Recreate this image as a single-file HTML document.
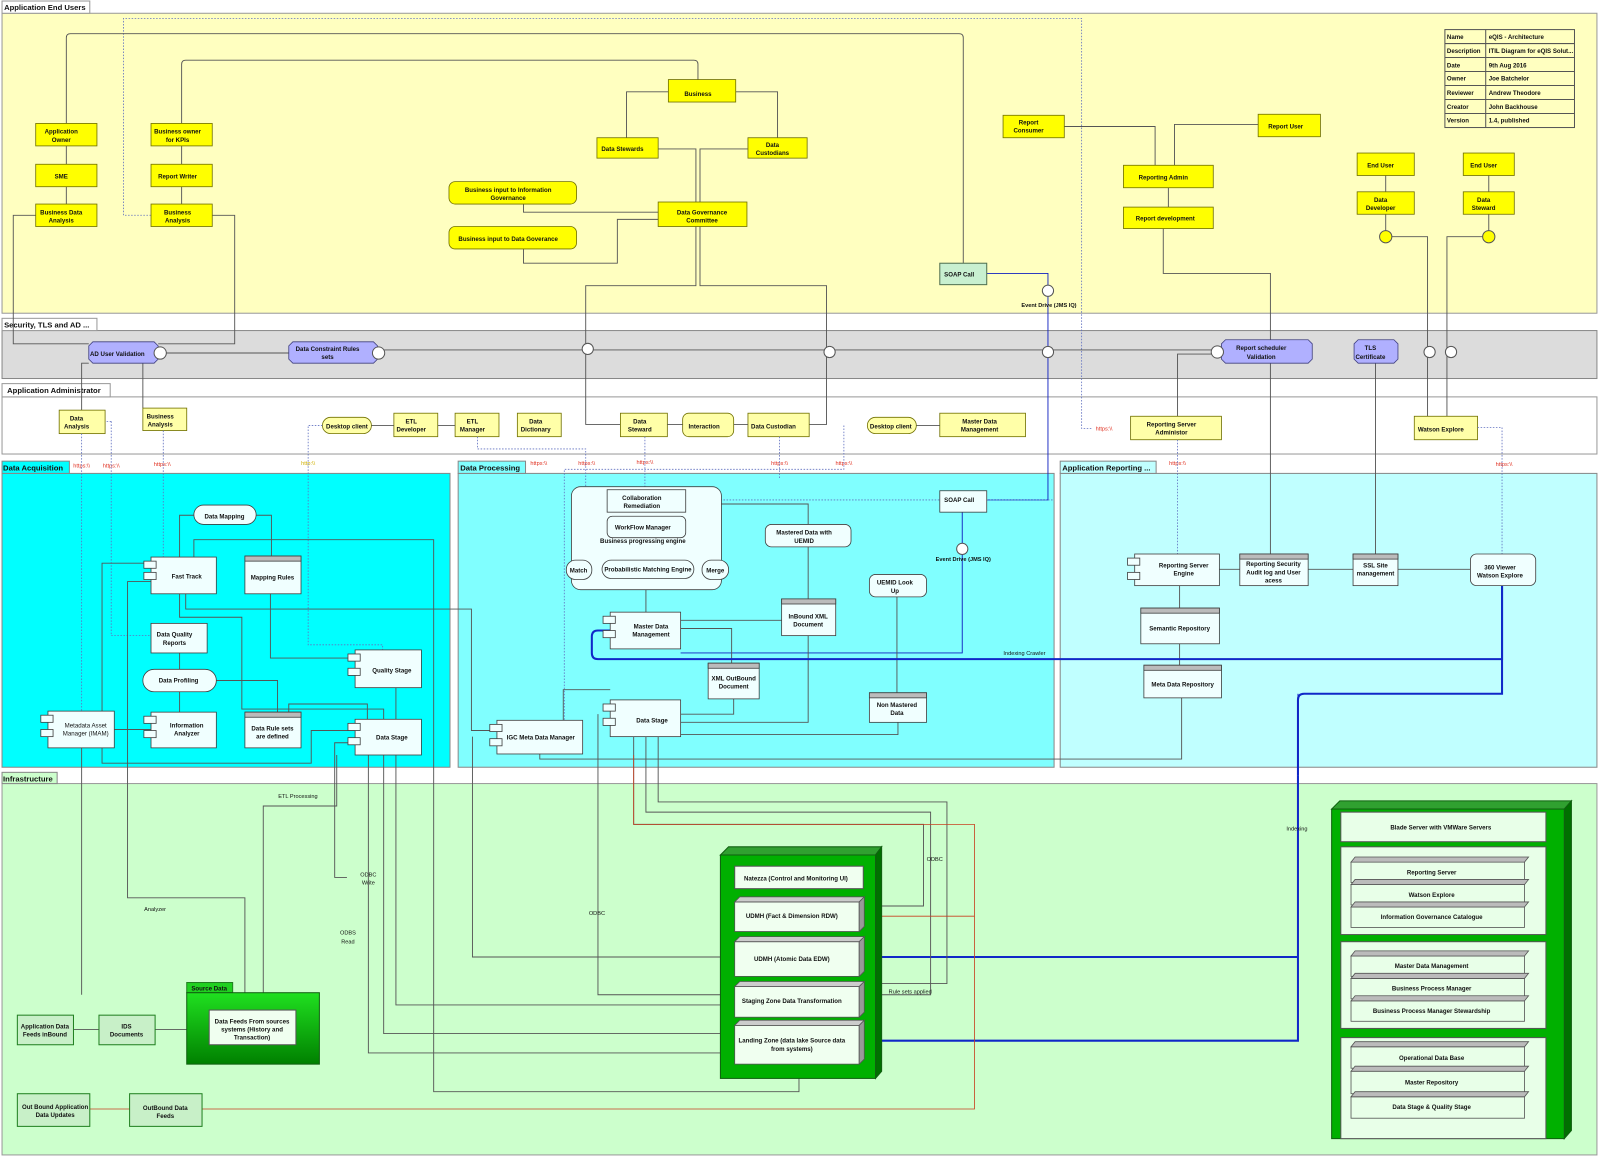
<!DOCTYPE html>
<html><head><meta charset="utf-8"><style>
html,body{margin:0;padding:0;background:#fff;}
svg{display:block;}
text{font-family:"Liberation Sans",sans-serif;font-size:6px;font-weight:bold;fill:#111;text-anchor:middle;}
.tab{font-size:7.5px;text-anchor:start;font-weight:bold;}
.ln{fill:none;stroke:#555;stroke-width:0.9;}
.lb{fill:none;stroke:#1020c0;stroke-width:0.9;}
.lbb{fill:none;stroke:#1028c8;stroke-width:2;}
.lr{fill:none;stroke:#c84020;stroke-width:0.8;}
.dt{fill:none;stroke:#6070c0;stroke-width:0.8;stroke-dasharray:1.5,1.5;}
.y{fill:#ffff00;stroke:#707000;stroke-width:0.8;}
.ly{fill:#ffffa8;stroke:#707000;stroke-width:0.8;}
.w{fill:#f0ffff;stroke:#404040;stroke-width:0.8;}
.p{fill:#b0b0ff;stroke:#404080;stroke-width:0.8;}
.g{fill:#c8f0c8;stroke:#208020;stroke-width:1;}
.r{fill:#e03020;font-weight:normal;font-size:5.5px;}
.n{font-weight:normal;}
.sh{fill:#888;}
</style></head><body>
<svg width="1600" height="1158" viewBox="0 0 1568 1135" preserveAspectRatio="none" xmlns="http://www.w3.org/2000/svg">
<defs>
<linearGradient id="gg" x1="0" y1="0" x2="0" y2="1"><stop offset="0" stop-color="#20e020"/><stop offset="1" stop-color="#008000"/></linearGradient>
</defs>
<!-- Frames -->
<rect x="2" y="13" width="1563" height="294" fill="#ffffc0" stroke="#999"/>
<rect x="2" y="1" width="86" height="12" fill="#fff" stroke="#999"/><text class="tab" x="4" y="10">Application End Users</text>
<rect x="2" y="324" width="1563" height="47" fill="#dcdcdc" stroke="#888"/>
<rect x="2" y="312" width="93" height="12" fill="#fff" stroke="#999"/><text class="tab" x="4" y="321">Security, TLS and AD  ...</text>
<rect x="2" y="389" width="1563" height="56" fill="#fff" stroke="#999"/>
<rect x="2" y="376" width="106" height="13" fill="#fff" stroke="#999"/><text class="tab" x="7" y="385">Application Administrator</text>
<rect x="2" y="464" width="439" height="288" fill="#00ffff" stroke="#888"/>
<rect x="2" y="452" width="66" height="12" fill="#00ffff" stroke="#888"/><text class="tab" x="3" y="461">Data Acquisition</text>
<rect x="449" y="464" width="584" height="288" fill="#80ffff" stroke="#888"/>
<rect x="449" y="452" width="66" height="12" fill="#80ffff" stroke="#888"/><text class="tab" x="451" y="461">Data Processing</text>
<rect x="1039" y="464" width="526" height="288" fill="#c0ffff" stroke="#888"/>
<rect x="1039" y="452" width="94" height="12" fill="#c0ffff" stroke="#888"/><text class="tab" x="1041" y="461">Application Reporting ...</text>
<rect x="2" y="768" width="1563" height="364" fill="#ccffcc" stroke="#999"/>
<rect x="2" y="757" width="54" height="11" fill="#ccffcc" stroke="#888"/><text class="tab" x="3" y="766">Infrastructure</text>

<!-- Info table -->
<g>
<rect x="1416" y="29" width="127" height="96" fill="#ffffc0" stroke="#555"/>
<line x1="1456" y1="29" x2="1456" y2="125" stroke="#555"/>
<line x1="1416" y1="42.7" x2="1543" y2="42.7" stroke="#555"/><line x1="1416" y1="56.4" x2="1543" y2="56.4" stroke="#555"/>
<line x1="1416" y1="70.1" x2="1543" y2="70.1" stroke="#555"/><line x1="1416" y1="83.8" x2="1543" y2="83.8" stroke="#555"/>
<line x1="1416" y1="97.5" x2="1543" y2="97.5" stroke="#555"/><line x1="1416" y1="111.2" x2="1543" y2="111.2" stroke="#555"/>
<g style="font-size:5.3px">
<text x="1418" y="38" style="text-anchor:start">Name</text><text x="1459" y="38" style="text-anchor:start">eQIS - Architecture</text>
<text x="1418" y="52" style="text-anchor:start">Description</text><text x="1459" y="52" style="text-anchor:start">ITIL Diagram for eQIS Solut...</text>
<text x="1418" y="66" style="text-anchor:start">Date</text><text x="1459" y="66" style="text-anchor:start">9th Aug 2016</text>
<text x="1418" y="79" style="text-anchor:start">Owner</text><text x="1459" y="79" style="text-anchor:start">Joe Batchelor</text>
<text x="1418" y="93" style="text-anchor:start">Reviewer</text><text x="1459" y="93" style="text-anchor:start">Andrew Theodore</text>
<text x="1418" y="107" style="text-anchor:start">Creator</text><text x="1459" y="107" style="text-anchor:start">John Backhouse</text>
<text x="1418" y="120" style="text-anchor:start">Version</text><text x="1459" y="120" style="text-anchor:start">1.4, published</text>
</g></g>

<!-- Connectors: end users -->
<path class="dt" d="M148,211 H121 V18 H1060 V420 H1070"/>
<path class="ln" d="M65,121 V37 Q65,33 69,33 H940 Q944,33 944,37 V258"/>
<path class="ln" d="M178,121 V63 Q178,59 182,59 H680 Q684,59 684,63 V78"/>
<path class="ln" d="M65,143 V161 M65,183 V200 M178,143 V161 M178,183 V200"/>
<path class="ln" d="M655,90 H614 V135 M721,90 H762 V135"/>
<path class="ln" d="M645,146 H682 V198 M733,146 H686 V198"/>
<path class="ln" d="M513,200 V208 H645 M513,244 V258 H605 V215 H645"/>
<path class="ln" d="M682,222 V280 H574 V416 H608"/>
<path class="ln" d="M686,222 V280 H810 V416 H793"/>
<path class="ln" d="M35,211 H13 V337 H87 M208,211 H230 V337 H155"/>
<path class="ln" d="M1043,124 H1132 V162 M1233,122 H1151 V162 M1145,184 V203"/>
<path class="ln" d="M1140,224 V268 H1245 V333 M1245,356 V543"/>
<path class="ln" d="M1358,172 V188 M1358,210 V226 M1459,172 V188 M1459,210 V226"/>
<path class="ln" d="M1364,232 H1399 V408 M1453,232 H1418 V408"/>
<path class="ln" d="M1154,408 V347 H1193 M1348,356 V543"/>
<path class="lb" d="M967,268 H1027 V490 H967"/>
<path class="lb" d="M943,502 V640 H667"/>
<path class="ln" d="M80,402 V356 H87 M140,400 V356"/>
<path class="ln" d="M160,346 H283 M374,343 H1197"/>
<!-- Security items -->
<path class="p" d="M91,335 H151 L155,339 V352 L151,356 H91 L87,352 V339 Z"/><text x="115" y="349">AD User Validation</text>
<circle cx="157" cy="346" r="6" fill="#fff" stroke="#555"/>
<path class="p" d="M287,335 H366 L370,339 V352 L366,356 H287 L283,352 V339 Z"/><text x="321" y="344">Data Constraint Rules</text><text x="321" y="352">sets</text>
<circle cx="371" cy="346" r="6" fill="#fff" stroke="#555"/>
<path class="p" d="M1201,333 H1282 L1286,337 V352 L1282,356 H1201 L1197,352 V337 Z"/><text x="1236" y="343">Report scheduler</text><text x="1236" y="352">Validation</text>
<circle cx="1193" cy="345" r="6" fill="#fff" stroke="#555"/>
<path class="p" d="M1331,333 H1366 L1370,337 V352 L1366,356 H1331 L1327,352 V337 Z"/><text x="1343" y="343">TLS</text><text x="1343" y="352">Certificate</text>
<g fill="#fff" stroke="#555"><circle cx="576" cy="342" r="5.5"/><circle cx="813" cy="345" r="5.5"/><circle cx="1027" cy="345" r="5.5"/><circle cx="1401" cy="345" r="5.5"/><circle cx="1422" cy="345" r="5.5"/><circle cx="1027" cy="285" r="5.5"/></g>
<text x="1028" y="301" style="font-size:5.5px">Event Drive  (JMS IQ)</text>

<!-- End user nodes -->
<g>
<rect class="y" x="35" y="121" width="60" height="22"/><text x="60" y="131">Application</text><text x="60" y="139">Owner</text>
<rect class="y" x="35" y="161" width="60" height="22"/><text x="60" y="175">SME</text>
<rect class="y" x="35" y="200" width="60" height="22"/><text x="60" y="210">Business Data</text><text x="60" y="218">Analysis</text>
<rect class="y" x="148" y="121" width="60" height="22"/><text x="174" y="131">Business owner</text><text x="174" y="139">for KPIs</text>
<rect class="y" x="148" y="161" width="60" height="22"/><text x="174" y="175">Report Writer</text>
<rect class="y" x="148" y="200" width="60" height="22"/><text x="174" y="210">Business</text><text x="174" y="218">Analysis</text>
<rect class="y" x="655" y="78" width="66" height="22"/><text x="684" y="94">Business</text>
<rect class="y" x="585" y="135" width="60" height="20"/><text x="610" y="148">Data Stewards</text>
<rect class="y" x="733" y="135" width="58" height="20"/><text x="757" y="144">Data</text><text x="757" y="152">Custodians</text>
<rect class="y" x="440" y="178" width="125" height="22" rx="6"/><text x="498" y="188">Business input to Information</text><text x="498" y="196">Governance</text>
<rect class="y" x="440" y="222" width="125" height="22" rx="6"/><text x="498" y="236">Business input to Data Goverance</text>
<rect class="y" x="645" y="198" width="87" height="24"/><text x="688" y="210">Data Governance</text><text x="688" y="218">Committee</text>
<rect x="921" y="258" width="46" height="21" fill="#c8f0d0" stroke="#507050"/><text x="940" y="271">SOAP Call</text>
<rect class="y" x="983" y="113" width="60" height="22"/><text x="1008" y="122">Report</text><text x="1008" y="130">Consumer</text>
<rect class="y" x="1233" y="112" width="61" height="22"/><text x="1260" y="126">Report User</text>
<rect class="y" x="1101" y="162" width="88" height="22"/><text x="1140" y="176">Reporting Admin</text>
<rect class="y" x="1101" y="203" width="88" height="21"/><text x="1142" y="216">Report development</text>
<rect class="y" x="1330" y="150" width="56" height="22"/><text x="1353" y="164">End User</text>
<rect class="y" x="1330" y="188" width="56" height="22"/><text x="1353" y="198">Data</text><text x="1353" y="206">Developer</text>
<rect class="y" x="1434" y="150" width="50" height="22"/><text x="1454" y="164">End User</text>
<rect class="y" x="1434" y="188" width="50" height="22"/><text x="1454" y="198">Data</text><text x="1454" y="206">Steward</text>
<circle cx="1358" cy="232" r="6" fill="#ffff00" stroke="#555"/><circle cx="1459" cy="232" r="6" fill="#ffff00" stroke="#555"/>
</g>

<!-- Admin nodes -->
<g>
<rect class="ly" x="58" y="402" width="45" height="23"/><text x="75" y="412">Data</text><text x="75" y="420">Analysis</text>
<rect class="ly" x="140" y="400" width="43" height="22"/><text x="157" y="410">Business</text><text x="157" y="418">Analysis</text>
<rect class="ly" x="316" y="409" width="48" height="16" rx="8"/><text x="340" y="420">Desktop client</text>
<rect class="ly" x="386" y="405" width="43" height="23"/><text x="403" y="415">ETL</text><text x="403" y="423">Developer</text>
<rect class="ly" x="446" y="405" width="43" height="23"/><text x="463" y="415">ETL</text><text x="463" y="423">Manager</text>
<rect class="ly" x="507" y="405" width="43" height="23"/><text x="525" y="415">Data</text><text x="525" y="423">Dictionary</text>
<rect class="ly" x="608" y="405" width="46" height="23"/><text x="627" y="415">Data</text><text x="627" y="423">Steward</text>
<rect class="ly" x="669" y="405" width="50" height="23" rx="6"/><text x="690" y="420">Interaction</text>
<rect class="ly" x="733" y="405" width="60" height="23"/><text x="758" y="420">Data Custodian</text>
<rect class="ly" x="850" y="409" width="48" height="16" rx="8"/><text x="873" y="420">Desktop client</text>
<rect class="ly" x="921" y="405" width="84" height="23"/><text x="960" y="415">Master Data</text><text x="960" y="423">Management</text>
<rect class="ly" x="1108" y="408" width="89" height="23"/><text x="1148" y="418">Reporting Server</text><text x="1148" y="426">Administor</text>
<rect class="ly" x="1386" y="408" width="62" height="23"/><text x="1412" y="423">Watson Explore</text>
<path class="ln" d="M654,416 H669 M719,416 H733 M364,417 H386 M429,417 H446 M898,417 H921"/>
</g>
<!-- https labels and dotted -->
<g>
<text class="r" x="80" y="458">https:\\</text><text class="r" x="109" y="458">https:\\</text><text class="r" x="159" y="457">https:\\</text>
<text x="302" y="456" style="fill:#d0b000;font-weight:normal;font-size:5.5px">http:\\</text>
<text class="r" x="528" y="456">https:\\</text><text class="r" x="575" y="456">https:\\</text><text class="r" x="632" y="455">https:\\</text>
<text class="r" x="764" y="456">https:\\</text><text class="r" x="827" y="456">https:\\</text><text class="r" x="1154" y="456">https:\\</text>
<text class="r" x="1474" y="457">https:\\</text><text class="r" x="1082" y="422">https:\\</text>
<path class="dt" d="M80,425 V697 M109,413 H103 M109,413 V623 H148 M160,422 V546 M316,417 H302 V632 H375 V637"/>
<path class="dt" d="M468,428 V440 H574 V514 H595 M632,428 V506 M764,428 V470 M827,417 V460 H553 V706"/>
<path class="dt" d="M1154,431 V543 M1448,419 H1472 V543 M703,490 H1033"/>
</g>

<!-- Data Acquisition -->
<g>
<path class="ln" d="M190,505 H176 V546 M251,505 H266 V545"/>
<path class="ln" d="M265,582 V645 H348 M176,582 V605 H237 V695 H376 V705"/>
<path class="ln" d="M176,640 V656 M176,678 V698"/>
<path class="ln" d="M212,667 H272 V698"/>
<path class="ln" d="M112,715 H148 M148,552 H100 V697"/>
<path class="ln" d="M148,570 H125 V880 H240 V975"/>
<path class="ln" d="M182,582 V597 H462 V716 H487"/>
<path class="ln" d="M190,546 V529 H425 V1070 H783 V1057"/>
<path class="ln" d="M388,674 V705"/>
<path class="ln" d="M100,733 V748 H305 V716 H348 M283,698 V690 H360 V705"/>
<path class="ln" d="M348,728 H328 V860 H340"/>
<path class="ln" d="M80,733 V975 M361,740 V1032 H720 M376,740 V1013 H720 M388,740 V985 H720"/>
<path class="ln" d="M258,975 V790 H330 V740"/>
<rect class="w" x="190" y="495" width="61" height="19" rx="9.5"/><text x="220" y="508">Data Mapping</text>
<rect class="w" x="148" y="546" width="64" height="36"/><rect class="w" x="141" y="550" width="12" height="7"/><rect class="w" x="141" y="561" width="12" height="7"/><text x="183" y="567">Fast Track</text>
<rect class="w" x="240" y="545" width="55" height="37"/><rect x="240" y="545" width="55" height="5" fill="#bbb" stroke="#404040" stroke-width="0.8"/><text x="267" y="568">Mapping Rules</text>
<rect class="w" x="148" y="611" width="55" height="29"/><text x="171" y="624">Data Quality</text><text x="171" y="632">Reports</text>
<rect class="w" x="140" y="656" width="72" height="22" rx="11"/><text x="175" y="669">Data Profiling</text>
<rect class="w" x="348" y="637" width="65" height="37"/><rect class="w" x="341" y="641" width="12" height="7"/><rect class="w" x="341" y="655" width="12" height="7"/><text x="384" y="659">Quality Stage</text>
<rect class="w" x="47" y="697" width="65" height="36"/><rect class="w" x="40" y="701" width="12" height="7"/><rect class="w" x="40" y="715" width="12" height="7"/><text class="n" x="84" y="713">Metadata Asset</text><text class="n" x="84" y="721">Manager (IMAM)</text>
<rect class="w" x="148" y="698" width="64" height="35"/><rect class="w" x="141" y="702" width="12" height="7"/><rect class="w" x="141" y="716" width="12" height="7"/><text x="183" y="713">Information</text><text x="183" y="721">Analyzer</text>
<rect class="w" x="240" y="698" width="55" height="35"/><rect x="240" y="698" width="55" height="5" fill="#bbb" stroke="#404040" stroke-width="0.8"/><text x="267" y="716">Data Rule sets</text><text x="267" y="724">are defined</text>
<rect class="w" x="348" y="705" width="65" height="35"/><rect class="w" x="341" y="709" width="12" height="7"/><rect class="w" x="341" y="723" width="12" height="7"/><text x="384" y="725">Data Stage</text>
</g>

<!-- Data Processing -->
<g>
<path class="ln" d="M706,494 H792 V514 M792,536 V587 M633,578 V600 M667,608 H766 M667,616 H717 V650 M719,685 V700 H667 M792,623 V708 H667"/>
<path class="ln" d="M879,585 V679 M880,708 V720 H667"/>
<path class="ln" d="M598,676 H552 V706 M529,739 V744 H1158 V684"/>
<path class="ln" d="M1156,574 V596 M1156,631 V652 M1195,558 H1215 M1282,558 H1326 M1370,558 H1441"/>
<path class="lbb" d="M1472,574 V646 H586 Q580,646 580,640 V624 Q580,618 586,618 H598"/>
<path class="lbb" d="M1472,574 V646 M1272,760 V686 Q1272,680 1278,680 H1472 V646"/>
<path class="lbb" d="M1272,760 V1020 H848 M1272,938 H848"/>
<path class="lb" d="M1272,760 V680"/>
<rect x="560" y="477" width="147" height="101" rx="9" fill="#f0ffff" stroke="#404040" stroke-width="0.8"/>
<rect class="w" x="595" y="480" width="77" height="22"/><text x="629" y="490">Collaboration</text><text x="629" y="498">Remediation</text>
<rect class="w" x="595" y="506" width="77" height="21" rx="5"/><text x="630" y="519">WorkFlow Manager</text>
<text x="630" y="532">Business progressing engine</text>
<rect class="w" x="555" y="549" width="25" height="19" rx="9"/><text x="567" y="561">Match</text>
<rect class="w" x="590" y="549" width="90" height="18" rx="9"/><text x="635" y="560">Probabilistic Matching Engine</text>
<rect class="w" x="688" y="549" width="26" height="19" rx="9"/><text x="701" y="561">Merge</text>
<rect class="w" x="750" y="514" width="84" height="22" rx="6"/><text x="788" y="524">Mastered Data with</text><text x="788" y="532">UEMID</text>
<rect class="w" x="921" y="481" width="46" height="21"/><text x="940" y="492">SOAP Call</text>
<circle cx="943" cy="538" r="5.5" fill="#fff" stroke="#555"/><text x="944" y="550" style="font-size:5.5px">Event Drive  (JMS IQ)</text>
<rect class="w" x="852" y="563" width="56" height="22" rx="6"/><text x="877" y="573">UEMID Look</text><text x="877" y="581">Up</text>
<rect class="w" x="598" y="600" width="69" height="36"/><rect class="w" x="591" y="604" width="12" height="7"/><rect class="w" x="591" y="618" width="12" height="7"/><text x="638" y="616">Master Data</text><text x="638" y="624">Management</text>
<rect class="w" x="766" y="587" width="53" height="36"/><rect x="766" y="587" width="53" height="5" fill="#bbb" stroke="#404040" stroke-width="0.8"/><text x="792" y="606">InBound XML</text><text x="792" y="614">Document</text>
<rect class="w" x="694" y="650" width="50" height="35"/><rect x="694" y="650" width="50" height="5" fill="#bbb" stroke="#404040" stroke-width="0.8"/><text x="719" y="667">XML OutBound</text><text x="719" y="675">Document</text>
<rect class="w" x="852" y="679" width="56" height="29"/><rect x="852" y="679" width="56" height="5" fill="#bbb" stroke="#404040" stroke-width="0.8"/><text x="879" y="693">Non Mastered</text><text x="879" y="701">Data</text>
<rect class="w" x="487" y="706" width="84" height="33"/><rect class="w" x="480" y="710" width="12" height="7"/><rect class="w" x="480" y="724" width="12" height="7"/><text x="530" y="725">IGC Meta Data Manager</text>
<rect class="w" x="598" y="686" width="69" height="36"/><rect class="w" x="591" y="690" width="12" height="7"/><rect class="w" x="591" y="704" width="12" height="7"/><text x="639" y="708">Data Stage</text>
<text class="n" x="1004" y="642" style="font-size:5.5px">Indexing Crawler</text>
</g>
<!-- Reporting -->
<g>
<rect class="w" x="1112" y="543" width="83" height="31"/><rect class="w" x="1105" y="547" width="12" height="7"/><rect class="w" x="1105" y="561" width="12" height="7"/><text x="1160" y="556">Reporting Server</text><text x="1160" y="564">Engine</text>
<rect class="w" x="1215" y="543" width="67" height="31"/><rect x="1215" y="543" width="67" height="5" fill="#bbb" stroke="#404040" stroke-width="0.8"/><text x="1248" y="555">Reporting Security</text><text x="1248" y="563">Audit log and User</text><text x="1248" y="571">acess</text>
<rect class="w" x="1326" y="543" width="44" height="31"/><rect x="1326" y="543" width="44" height="5" fill="#bbb" stroke="#404040" stroke-width="0.8"/><text x="1348" y="556">SSL Site</text><text x="1348" y="564">management</text>
<rect class="w" x="1441" y="543" width="64" height="31" rx="6"/><text x="1470" y="558">360 Viewer</text><text x="1470" y="566">Watson Explore</text>
<rect class="w" x="1118" y="596" width="77" height="35"/><rect x="1118" y="596" width="77" height="5" fill="#bbb" stroke="#404040" stroke-width="0.8"/><text x="1156" y="618">Semantic Repository</text>
<rect class="w" x="1121" y="652" width="76" height="32"/><rect x="1121" y="652" width="76" height="5" fill="#bbb" stroke="#404040" stroke-width="0.8"/><text x="1159" y="673">Meta Data Repository</text>
</g>

<!-- Infrastructure connectors -->
<g>
<path class="ln" d="M621,722 V808 H905 V888 H848 M633,722 V796 H912 V975 H848 M645,722 V786 H928 V964 H848"/>
<path class="ln" d="M463,722 V938 H720 M586,700 V975 H720"/>
<path class="lr" d="M621,740 V808 H955 V898 H848 M955,898 V1087 H198"/>
<path class="lr" d="M127,1087 H88"/>
<path class="ln" d="M72,1009 H97 M152,1009 H183"/>
<text class="n" x="292" y="782" style="font-size:5.5px">ETL Processing</text>
<text class="n" x="361" y="859" style="font-size:5.5px">ODBC</text><text class="n" x="361" y="867" style="font-size:5.5px">Write</text>
<text class="n" x="152" y="893" style="font-size:5.5px">Analyzer</text>
<text class="n" x="341" y="916" style="font-size:5.5px">ODBS</text><text class="n" x="341" y="925" style="font-size:5.5px">Read</text>
<text class="n" x="585" y="897" style="font-size:5.5px">ODBC</text>
<text class="n" x="916" y="844" style="font-size:5.5px">ODBC</text>
<text class="n" x="892" y="974" style="font-size:5.5px">Rule sets applied</text>
<text class="n" x="1271" y="814" style="font-size:5.5px">Indexing</text>
</g>
<!-- Source data -->
<rect x="183" y="963" width="45" height="10" fill="#20d020" stroke="#208020"/><text x="205" y="971">Source Data</text>
<rect x="183" y="973" width="130" height="70" fill="url(#gg)" stroke="#106010"/>
<rect x="205" y="990" width="85" height="34" fill="#f0fff0" stroke="#555"/><text x="247" y="1003">Data Feeds From sources</text><text x="247" y="1011">systems (History and</text><text x="247" y="1019">Transaction)</text>
<rect class="g" x="17" y="995" width="55" height="29"/><text x="44" y="1008">Application Data</text><text x="44" y="1016">Feeds inBound</text>
<rect class="g" x="97" y="995" width="55" height="29"/><text x="124" y="1008">IDS</text><text x="124" y="1016">Documents</text>
<rect class="g" x="17" y="1072" width="71" height="32"/><text x="54" y="1087">Out Bound Application</text><text x="54" y="1095">Data Updates</text>
<rect class="g" x="127" y="1072" width="71" height="32"/><text x="162" y="1088">OutBound Data</text><text x="162" y="1096">Feeds</text>

<!-- Netezza node -->
<g>
<polygon points="706,838 714,830 864,830 858,838" fill="#30a030" stroke="#106010"/>
<polygon points="858,838 864,830 864,1050 858,1057" fill="#007000" stroke="#106010"/>
<rect x="706" y="838" width="152" height="219" fill="#00b000" stroke="#106010"/>
<rect x="720" y="849" width="126" height="22" fill="#f0fff0" stroke="#555"/><text x="780" y="863">Natezza (Control and Monitoring UI)</text>
<g fill="#f0fff0" stroke="#555" stroke-width="0.8">
<rect x="720" y="884" width="122" height="29"/><polygon points="720,884 725,879 847,879 842,884" fill="#ccc"/><polygon points="842,884 847,879 847,908 842,913" fill="#999"/>
<rect x="720" y="923" width="122" height="34"/><polygon points="720,923 725,918 847,918 842,923" fill="#ccc"/><polygon points="842,923 847,918 847,952 842,957" fill="#999"/>
<rect x="720" y="967" width="122" height="30"/><polygon points="720,967 725,962 847,962 842,967" fill="#ccc"/><polygon points="842,967 847,962 847,992 842,997" fill="#999"/>
<rect x="720" y="1005" width="122" height="38"/><polygon points="720,1005 725,1000 847,1000 842,1005" fill="#ccc"/><polygon points="842,1005 847,1000 847,1038 842,1043" fill="#999"/>
</g>
<text x="776" y="900">UDMH (Fact &amp; Dimension RDW)</text>
<text x="776" y="942">UDMH (Atomic Data EDW)</text>
<text x="776" y="983">Staging Zone Data Transformation</text>
<text x="776" y="1022">Landing Zone (data lake Source data</text><text x="776" y="1030">from systems)</text>
</g>

<!-- Blade servers -->
<g>
<polygon points="1305,793 1313,785 1540,785 1533,793" fill="#30a030" stroke="#106010"/>
<polygon points="1533,793 1540,785 1540,1108 1533,1116" fill="#007000" stroke="#106010"/>
<rect x="1305" y="793" width="228" height="323" fill="#00b000" stroke="#106010"/>
<rect x="1314" y="796" width="201" height="29" fill="#e8ffe8" stroke="#555"/><text x="1412" y="813">Blade Server with VMWare Servers</text>
<rect x="1314" y="830" width="201" height="86" fill="#e8ffe8" stroke="#555"/>
<rect x="1314" y="923" width="201" height="85" fill="#e8ffe8" stroke="#555"/>
<rect x="1314" y="1017" width="201" height="99" fill="#e8ffe8" stroke="#555"/>
<g fill="#e8ffe8" stroke="#555" stroke-width="0.8">
<rect x="1324" y="845" width="170" height="20"/><polygon points="1324,845 1328,840 1498,840 1494,845" fill="#bbb"/>
<rect x="1324" y="867" width="170" height="20"/><polygon points="1324,867 1328,862 1498,862 1494,867" fill="#bbb"/>
<rect x="1324" y="889" width="170" height="20"/><polygon points="1324,889 1328,884 1498,884 1494,889" fill="#bbb"/>
<rect x="1324" y="937" width="170" height="20"/><polygon points="1324,937 1328,932 1498,932 1494,937" fill="#bbb"/>
<rect x="1324" y="959" width="170" height="20"/><polygon points="1324,959 1328,954 1498,954 1494,959" fill="#bbb"/>
<rect x="1324" y="981" width="170" height="20"/><polygon points="1324,981 1328,976 1498,976 1494,981" fill="#bbb"/>
<rect x="1324" y="1026" width="170" height="21"/><polygon points="1324,1026 1328,1021 1498,1021 1494,1026" fill="#bbb"/>
<rect x="1324" y="1050" width="170" height="22"/><polygon points="1324,1050 1328,1045 1498,1045 1494,1050" fill="#bbb"/>
<rect x="1324" y="1075" width="170" height="21"/><polygon points="1324,1075 1328,1070 1498,1070 1494,1075" fill="#bbb"/>
</g>
<text x="1403" y="857">Reporting Server</text>
<text x="1403" y="879">Watson Explore</text>
<text x="1403" y="901">Information Governance Catalogue</text>
<text x="1403" y="949">Master Data Management</text>
<text x="1403" y="971">Business Process Manager</text>
<text x="1403" y="993">Business Process Manager Stewardship</text>
<text x="1403" y="1039">Operational Data Base</text>
<text x="1403" y="1063">Master Repository</text>
<text x="1403" y="1087">Data Stage &amp; Quality Stage</text>
</g>
</svg>
</body></html>
